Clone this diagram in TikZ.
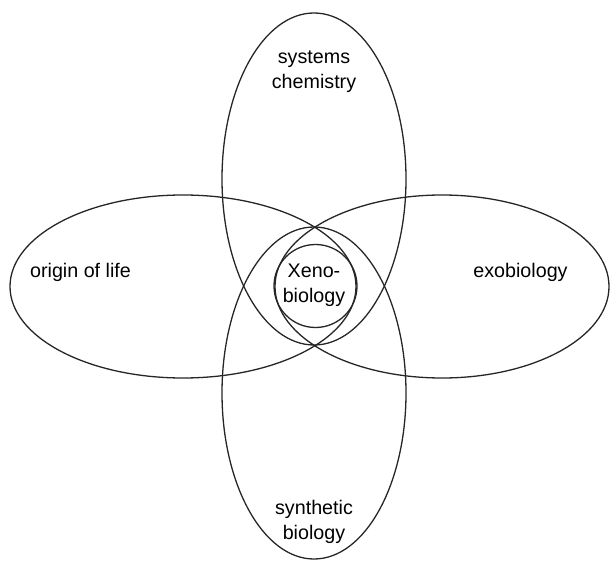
\documentclass[tikz,border=0pt]{standalone}
\usepackage{fontspec}
\setmainfont{Liberation Sans}
\usetikzlibrary{shapes}

\begin{document}
\begin{tikzpicture}[x=0.5pt, y=-0.5pt, black!85, line width = 0.65pt,
    petal/.style = {ellipse, draw, inner sep = 0pt},
    lbl/.style = {align = center, black, font = \fontsize{9.85}{12.5}\selectfont}]

    \useasboundingbox (0,0) rectangle (610,561);

    % the four fields
    \node (SC) at (314,179)   [petal, minimum width = 92pt,  minimum height = 166pt] {};
    \node (SB) at (314,393)   [petal, minimum width = 92pt,  minimum height = 166pt] {};
    \node (OL) at (183,286.5) [petal, minimum width = 173pt, minimum height = 91.5pt] {};
    \node (EX) at (442,286.5) [petal, minimum width = 167pt, minimum height = 91.5pt] {};

    % the centre
    \node (XB) at (315.5,286) [circle, draw, inner sep = 0pt, minimum size = 41.5pt] {};

    \node (SCl) at (314,71.5)  [lbl] {systems\\chemistry};
    \node (SBl) at (314,522)   [lbl] {synthetic\\biology};
    \node (OLl) at (80.5,272)  [lbl] {origin of life};
    \node (EXl) at (520.5,272) [lbl] {exobiology};
    \node (XBl) at (314,285)   [lbl] {Xeno-\\biology};

\end{tikzpicture}
\end{document}
